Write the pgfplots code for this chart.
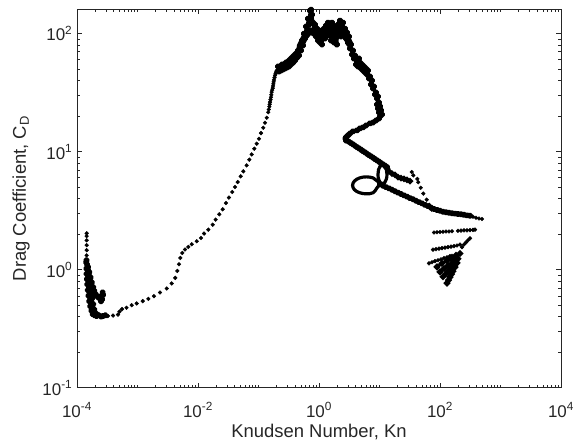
\documentclass[border=0pt]{standalone}
\usepackage{pgfplots}
\pgfplotsset{compat=1.18}
\usepackage{fontspec}
\setmainfont{Liberation Sans}

\pgfplotsset{
  dots/.style={only marks, mark=*, mark size=1.9pt, black},
  trail/.style={black, line width=3.2pt, mark=*, mark size=1.7pt, line join=round, line cap=round},
  blob/.style={black, line width=3pt, mark=*, mark size=1.8pt, line join=round},
}

\begin{document}
\begin{tikzpicture}
\useasboundingbox (-77bp,-57.3bp) rectangle (496bp,387.7bp);
\begin{axis}[
  at={(0,0)}, anchor=south west,
  scale only axis, width=484bp, height=378.4bp,
  xmode=log, ymode=log,
  xmin=1e-4, xmax=1e4, ymin=0.1, ymax=160,
  xtick={1e-4,1e-2,1,1e2,1e4},
  xticklabels={10\textsuperscript{-4},10\textsuperscript{-2},10\textsuperscript{0},10\textsuperscript{2},10\textsuperscript{4}},
  ytick={0.1,1,10,100},
  yticklabels={10\textsuperscript{-1},10\textsuperscript{0},10\textsuperscript{1},10\textsuperscript{2}},
  minor xtick={2e-4,3e-4,4e-4,5e-4,6e-4,7e-4,8e-4,9e-4,1e-3,2e-3,3e-3,4e-3,5e-3,6e-3,7e-3,8e-3,9e-3,
    2e-2,3e-2,4e-2,5e-2,6e-2,7e-2,8e-2,9e-2,1e-1,2e-1,3e-1,4e-1,5e-1,6e-1,7e-1,8e-1,9e-1,
    2,3,4,5,6,7,8,9,10,20,30,40,50,60,70,80,90,200,300,400,500,600,700,800,900,1000,
    2000,3000,4000,5000,6000,7000,8000,9000},
  minor ytick={0.2,0.3,0.4,0.5,0.6,0.7,0.8,0.9,2,3,4,5,6,7,8,9,20,30,40,50,60,70,80,90},
  tick align=inside,
  major tick length=5bp, minor tick length=3bp,
  tick style={draw=black!85, line width=0.5bp},
  axis line style={draw=black!85, line width=0.6bp},
  tick label style={font=\fontsize{17}{20}\selectfont, text=black!85},
  xticklabel style={anchor=base, inner sep=0pt, yshift=-29.5bp},
  yticklabel style={anchor=base east, inner sep=0pt, xshift=-4.5bp, yshift=-7.5bp},
  label style={font=\fontsize{18.5}{22}\selectfont, text=black!85},
  xlabel={Knudsen Number, Kn},
  ylabel={Drag Coefficient, C\textsubscript{D}},
  xlabel style={at={(axis description cs:0.5,-0.1303)}, anchor=base},
  ylabel style={at={(axis description cs:-0.1054,0.5)}, anchor=base},
]

% low-Kn start: vertical column and the dense cluster
\addplot[dots] coordinates {
  (1.445e-4,2.03) (1.445e-4,1.92) (1.445e-4,1.77) (1.445e-4,1.61)
  (1.445e-4,1.46) (1.445e-4,1.32) (1.445e-4,1.20)};
\addplot[blob] coordinates {
  (1.44e-4,1.20) (1.42e-4,1.15) (1.43e-4,1.02) (1.44e-4,0.92) (1.46e-4,0.83)
  (1.48e-4,0.75) (1.51e-4,0.67) (1.55e-4,0.60) (1.6e-4,0.54) (1.66e-4,0.49)
  (1.73e-4,0.45) (1.82e-4,0.42) (1.95e-4,0.41) (2.1e-4,0.405) (2.3e-4,0.41)
  (2.5e-4,0.40) (2.7e-4,0.405) (2.95e-4,0.41)};
\addplot[blob] coordinates {
  (1.47e-4,1.10) (1.52e-4,0.98) (1.57e-4,0.88) (1.62e-4,0.79) (1.67e-4,0.71)
  (1.72e-4,0.64) (1.78e-4,0.57) (1.85e-4,0.51) (1.93e-4,0.46) (2.02e-4,0.43)
  (2.15e-4,0.415)};
\addplot[blob] coordinates {
  (1.52e-4,1.05) (1.6e-4,0.95) (1.68e-4,0.86) (1.76e-4,0.78) (1.85e-4,0.71)
  (1.93e-4,0.66) (2.02e-4,0.62) (2.12e-4,0.60) (2.25e-4,0.58) (2.4e-4,0.57)
  (2.55e-4,0.60) (2.65e-4,0.64) (2.7e-4,0.61) (2.6e-4,0.56) (2.5e-4,0.54)};

% rise through the transition regime
\addplot[dots] coordinates {
  (3.25e-4,0.404) (3.94e-4,0.408) (4.76e-4,0.416) (5.04e-4,0.441) (5.54e-4,0.463)
  (6.58e-4,0.476) (8.02e-4,0.500) (9.70e-4,0.517) (1.22e-3,0.541) (1.51e-3,0.565)
  (1.87e-3,0.596) (2.36e-3,0.640) (3.04e-3,0.692) (3.67e-3,0.763) (4.21e-3,0.851)
  (4.55e-3,0.975) (4.85e-3,1.11) (5.10e-3,1.256) (5.50e-3,1.384) (6.10e-3,1.479)
  (6.92e-3,1.556) (7.87e-3,1.64) (9.52e-3,1.738) (1.12e-2,1.853) (1.26e-2,2.02)
  (1.48e-2,2.18) (1.75e-2,2.40) (1.96e-2,2.65) (2.25e-2,2.94) (2.56e-2,3.24)
  (2.90e-2,3.66) (3.25e-2,4.07) (3.69e-2,4.54) (4.09e-2,5.00) (4.53e-2,5.51)
  (5.08e-2,6.16) (5.61e-2,6.79) (6.38e-2,7.63) (7.05e-2,8.53) (7.72e-2,9.45)
  (8.53e-2,10.56) (9.34e-2,11.64) (0.102,12.83) (0.110,14.31) (0.120,15.89)
  (0.128,17.52) (0.137,19.31) (0.145,21.5) (0.148,22.7) (0.151,24.0) (0.153,25.1)
  (0.155,26.2) (0.158,27.5) (0.161,28.8) (0.163,30.2) (0.165,31.8) (0.168,33.1)
  (0.172,34.4) (0.174,35.9) (0.176,37.4) (0.178,38.9) (0.180,40.4) (0.184,42.2)
  (0.1874,44.0) (0.191,45.4) (0.1946,46.9) (0.199,48.0) (0.2046,49.1)};

% core of the noisy peak
\addplot[black, line width=7pt, line join=round, line cap=round] coordinates {
  (0.4853,77.3) (0.5871,94.0) (0.7102,105.6) (0.8591,99.6) (1.039,95.8)
  (1.256,101.6) (1.520,101.6) (1.838,101.6) (2.224,105.6) (2.690,99.6) (3.253,80.4)};

% noisy peak region and the descent
\addplot[blob] coordinates {
  (0.2100,52.4) (0.2182,47.5) (0.2266,51.4) (0.2354,48.5) (0.2445,54.5)
  (0.2541,49.4) (0.2639,54.5) (0.2742,50.4) (0.2848,56.6) (0.2959,51.4)
  (0.3074,57.8) (0.3193,52.4) (0.3317,60.1) (0.3445,54.5) (0.3579,62.4)
  (0.3718,56.6) (0.3862,64.9) (0.4012,58.9) (0.4168,67.5) (0.4330,62.4)
  (0.4498,71.6) (0.4672,64.9) (0.4853,77.3) (0.5042,71.6) (0.5237,87.0)
  (0.5440,78.9) (0.5651,99.6) (0.5871,90.4) (0.6099,114.2) (0.6335,101.6)
  (0.6581,133.4) (0.6837,118.7) (0.7102,155.9) (0.7377,158.9) (0.7664,144.2)
  (0.7961,123.4) (0.8270,105.6) (0.8591,118.7) (0.8924,94.0) (0.9270,109.8)
  (0.9627,87.0) (1.0,101.6) (1.039,83.6) (1.079,105.6) (1.121,80.4)
  (1.164,97.7) (1.209,109.8) (1.256,90.4) (1.305,116.4) (1.356,99.6)
  (1.408,123.4) (1.463,95.8) (1.520,114.2) (1.579,87.0) (1.640,123.4)
  (1.703,105.6) (1.770,83.6) (1.838,114.2) (1.910,97.7) (1.984,80.4)
  (2.061,118.7) (2.141,101.6) (2.224,128.3) (2.310,94.0) (2.399,114.2)
  (2.493,123.4) (2.589,97.7) (2.690,109.8) (2.794,90.4) (2.902,101.6)
  (3.015,83.6) (3.132,94.0) (3.253,74.4) (3.379,80.4) (3.511,66.2)
  (3.647,71.6) (3.788,61.2) (3.935,64.9) (4.088,54.5) (4.247,58.9)
  (4.411,52.4) (4.583,61.2) (4.761,56.6) (4.945,50.4) (5.137,54.5)
  (5.337,48.5) (5.544,52.4) (5.759,46.6) (5.983,50.4) (6.215,44.9)
  (6.456,48.5) (6.707,41.5) (6.966,43.1) (7.237,36.9) (7.517,39.9)
  (7.810,34.2) (8.113,35.5) (8.428,30.4) (8.755,31.6) (9.095,28.1)
  (9.446,29.2) (9.095,25.0) (9.811,26.0) (9.446,23.1) (10.19,24.1)
  (9.811,21.4) (10.59,22.3) (10.19,19.8) (11.00,20.6) (9.811,19.05)
  (8.755,18.3) (7.810,17.6) (6.966,17.3) (5.983,16.6) (5.337,16.0)
  (4.761,15.7) (4.247,15.1) (3.647,14.8) (3.253,14.2) (3.015,13.7)
  (2.794,13.2) (2.75,12.9) (2.794,12.4)};

% straight fall after the corner
\addplot[trail] coordinates {
  (2.902,12.4) (3.132,12.10) (3.379,11.78) (3.647,11.48) (3.935,11.20)
  (4.247,10.90) (4.583,10.62) (4.945,10.36) (5.337,10.08) (5.759,9.83)
  (6.215,9.58) (6.707,9.32) (7.237,9.09) (7.810,8.87) (8.428,8.63)
  (9.095,8.41) (9.811,8.20) (10.59,7.98) (11.43,7.78) (12.33,7.59) (13.30,7.38)};

% figure-eight loops
\addplot[black, line width=3.2pt, smooth cycle, tension=0.6] coordinates {
  (13.30,6.41) (13.0,5.84) (12.21,5.46) (11.21,5.33) (10.25,5.46) (9.64,5.84)
  (9.446,6.41) (9.64,7.02) (10.25,7.51) (11.21,7.70) (12.21,7.51) (13.0,7.02)};
\addplot[black, line width=3.2pt, smooth cycle, tension=0.6] coordinates {
  (10.19,5.33) (9.095,4.93) (7.87,4.48) (6.05,4.38) (4.67,4.48) (3.85,4.75)
  (3.59,5.17) (3.85,5.62) (4.67,5.97) (6.05,6.10) (7.87,5.97) (9.095,5.64)};

% lower branch
\addplot[trail] coordinates {
  (10.19,5.27) (11.43,5.13) (12.81,4.99) (14.36,4.87) (16.09,4.74) (18.04,4.61)
  (20.22,4.49) (22.66,4.37) (25.41,4.25) (28.48,4.15) (31.93,4.03) (35.79,3.94)
  (40.11,3.83) (44.97,3.73) (50.41,3.64) (56.50,3.53) (63.34,3.45) (71.00,3.35)
  (79.59,3.26) (89.22,3.20) (100.0,3.15) (112.1,3.09) (125.7,3.06) (140.9,3.03)
  (157.9,3.00) (177.0,2.98) (198.4,2.96) (222.4,2.94) (249.3,2.91) (279.5,2.88)
  (313.3,2.86)};
\addplot[dots] coordinates {
  (351.2,2.80) (393.7,2.75) (441.3,2.71) (494.7,2.68)};

% upper branch
\addplot[black, line width=2.6pt, mark=*, mark size=1.7pt] coordinates {
  (13.30,7.20) (14.36,6.79) (16.09,6.49) (18.04,6.34) (20.22,6.07)
  (22.66,5.96) (25.41,5.86) (28.48,5.75) (31.93,5.62)};
\addplot[dots] coordinates {
  (34.1,6.70) (36.2,6.28) (42.2,5.86) (43.8,5.49) (48.0,4.93)
  (52.97,4.40) (60.3,3.91) (66.6,3.54) (72.9,3.22)};

% high-Kn rows
\addplot[dots] coordinates {
  (79.59,2.06) (89.22,2.07) (100.0,2.08) (112.1,2.09) (125.7,2.10) (140.9,2.10)
  (157.9,2.11) (198.4,2.13) (222.4,2.14) (249.3,2.15) (279.5,2.15) (313.3,2.16)
  (351.2,2.17) (379.0,2.18)};
\addplot[dots] coordinates {
  (76.62,1.475) (85.89,1.49) (96.28,1.505) (107.9,1.52) (121.0,1.535)
  (135.6,1.55) (152.0,1.565) (170.4,1.58) (191.0,1.60) (214.1,1.63)};
\addplot[dots] coordinates {
  (231.1,1.55) (249.3,1.63) (269.1,1.70) (290.3,1.77) (313.3,1.84)};
\addplot[dots] coordinates {
  (65.80,1.13) (73.76,1.155) (82.68,1.18) (92.68,1.20) (103.9,1.22)
  (116.5,1.25) (130.6,1.27) (146.3,1.30) (157.9,1.31)};

% converging strokes
\addplot[black, line width=2.8pt, mark=*, mark size=1.7pt] coordinates {
  (89.22,1.055) (107.9,1.13) (130.6,1.19) (152.0,1.24) (183.9,1.32) (214.1,1.37)};
\addplot[black, line width=2.8pt, mark=*, mark size=1.7pt] coordinates {
  (100.0,0.957) (116.5,1.02) (135.6,1.08) (157.9,1.13) (177.0,1.18) (198.4,1.235)};
\addplot[black, line width=2.8pt, mark=*, mark size=1.7pt] coordinates {
  (112.1,0.871) (125.7,0.924) (140.9,0.98) (157.9,1.04) (177.0,1.10) (191.0,1.14)};
\addplot[black, line width=2.8pt, mark=*, mark size=1.7pt] coordinates {
  (130.6,0.768) (138.2,0.814) (146.3,0.863) (155.0,0.915) (164.0,0.97) (177.0,1.05)};

\end{axis}
\end{tikzpicture}
\end{document}
